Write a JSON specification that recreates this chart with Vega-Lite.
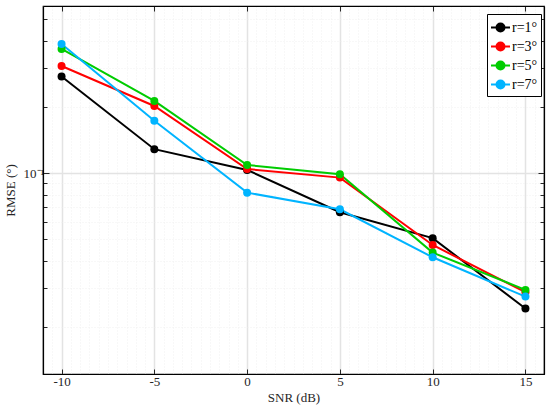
{
  "$schema": "https://vega.github.io/schema/vega-lite/v6.json",
  "autosize": {"type": "none"},
  "padding": {"left": 43, "top": 6, "right": 6, "bottom": 39},
  "width": 501,
  "height": 368,
  "background": "#ffffff",
  "config": {
    "view": {"stroke": "black", "strokeWidth": 1.2},
    "font": "Liberation Serif",
    "axis": {
      "labelFont": "Liberation Serif",
      "titleFont": "Liberation Serif",
      "labelColor": "#262626",
      "titleColor": "#262626",
      "labelFontSize": 13,
      "titleFontSize": 13,
      "titleFontWeight": "normal",
      "domainColor": "black",
      "domainWidth": 1.2,
      "tickColor": "#262626",
      "tickWidth": 1
    }
  },
  "data": {
    "values": [
      {"snr": -10, "rmse": 0.275, "r": "r=1°"},
      {"snr": -5, "rmse": 0.1286, "r": "r=1°"},
      {"snr": 0, "rmse": 0.1035, "r": "r=1°"},
      {"snr": 5, "rmse": 0.0665, "r": "r=1°"},
      {"snr": 10, "rmse": 0.0507, "r": "r=1°"},
      {"snr": 15, "rmse": 0.0243, "r": "r=1°"},
      {"snr": -10, "rmse": 0.307, "r": "r=3°"},
      {"snr": -5, "rmse": 0.202, "r": "r=3°"},
      {"snr": 0, "rmse": 0.1045, "r": "r=3°"},
      {"snr": 5, "rmse": 0.0955, "r": "r=3°"},
      {"snr": 10, "rmse": 0.0472, "r": "r=3°"},
      {"snr": 15, "rmse": 0.0288, "r": "r=3°"},
      {"snr": -10, "rmse": 0.367, "r": "r=5°"},
      {"snr": -5, "rmse": 0.213, "r": "r=5°"},
      {"snr": 0, "rmse": 0.109, "r": "r=5°"},
      {"snr": 5, "rmse": 0.099, "r": "r=5°"},
      {"snr": 10, "rmse": 0.0436, "r": "r=5°"},
      {"snr": 15, "rmse": 0.0295, "r": "r=5°"},
      {"snr": -10, "rmse": 0.386, "r": "r=7°"},
      {"snr": -5, "rmse": 0.173, "r": "r=7°"},
      {"snr": 0, "rmse": 0.0816, "r": "r=7°"},
      {"snr": 5, "rmse": 0.0686, "r": "r=7°"},
      {"snr": 10, "rmse": 0.0415, "r": "r=7°"},
      {"snr": 15, "rmse": 0.0275, "r": "r=7°"}
    ]
  },
  "resolve": {"axis": {"x": "independent", "y": "independent"}},
  "layer": [
    {
      "mark": {"type": "line", "strokeWidth": 2},
      "encoding": {
        "x": {
          "field": "snr",
          "type": "quantitative",
          "scale": {"domain": [-11, 16], "nice": false, "zero": false},
          "axis": {
            "orient": "bottom",
            "title": "SNR (dB)",
            "titlePadding": 3,
            "values": [-11, -10.5, -10, -9.5, -9, -8.5, -8, -7.5, -7, -6.5, -6, -5.5, -5, -4.5, -4, -3.5, -3, -2.5, -2, -1.5, -1, -0.5, 0, 0.5, 1, 1.5, 2, 2.5, 3, 3.5, 4, 4.5, 5, 5.5, 6, 6.5, 7, 7.5, 8, 8.5, 9, 9.5, 10, 10.5, 11, 11.5, 12, 12.5, 13, 13.5, 14, 14.5, 15, 15.5, 16],
            "labelExpr": "datum.value % 5 === 0 ? '' + datum.value : ''",
            "labelPadding": 6,
            "grid": true,
            "gridColor": {"condition": {"test": "datum.value % 5 === 0", "value": "#e3e3e3"}, "value": "#ececec"},
            "gridWidth": {"condition": {"test": "datum.value % 5 === 0", "value": 1.5}, "value": 0.8},
            "gridDash": {"condition": {"test": "datum.value % 5 === 0", "value": []}, "value": [1, 2]},
            "tickSize": {"condition": {"test": "datum.value % 5 === 0", "value": -5}, "value": 0}
          }
        },
        "y": {
          "field": "rmse",
          "type": "quantitative",
          "scale": {"type": "log", "domain": [0.01224, 0.575], "nice": false},
          "axis": {
            "orient": "left",
            "title": "RMSE (°)",
            "titlePadding": 6,
            "values": [0.02, 0.03, 0.04, 0.05, 0.06, 0.07, 0.08, 0.09, 0.1, 0.2, 0.3, 0.4, 0.5],
            "labelExpr": "datum.value === 0.1 ? '10⁻¹' : ''",
            "labelPadding": 5,
            "grid": true,
            "gridColor": {"condition": {"test": "datum.value === 0.1", "value": "#e3e3e3"}, "value": "#ececec"},
            "gridWidth": {"condition": {"test": "datum.value === 0.1", "value": 1.5}, "value": 0.8},
            "gridDash": {"condition": {"test": "datum.value === 0.1", "value": []}, "value": [1, 2]},
            "tickSize": {"condition": {"test": "datum.value === 0.1", "value": -6}, "value": -4}
          }
        },
        "color": {
          "field": "r",
          "type": "nominal",
          "scale": {
            "domain": ["r=1°", "r=3°", "r=5°", "r=7°"],
            "range": ["#000000", "#ff0000", "#00cc00", "#00b4ff"]
          },
          "legend": {
            "orient": "none",
            "legendX": 444,
            "legendY": 8,
            "title": null,
            "direction": "vertical",
            "strokeColor": "black",
            "fillColor": "white",
            "padding": 3,
            "rowPadding": 0,
            "labelFont": "Liberation Serif",
            "labelFontSize": 14,
            "labelColor": "black",
            "labelOffset": 1,
            "symbolType": "M-1,0L1,0M-0.42,0A0.42,0.42,0,1,1,0.42,0A0.42,0.42,0,1,1,-0.42,0Z",
            "symbolSize": 361,
            "symbolStrokeWidth": 2,
            "encode": {
              "symbols": {
                "update": {
                  "stroke": {"scale": "color", "field": "value"},
                  "fill": {"scale": "color", "field": "value"},
                  "opacity": {"value": 1}
                }
              }
            }
          }
        }
      }
    },
    {
      "mark": {"type": "circle", "size": 64, "opacity": 1},
      "encoding": {
        "x": {
          "field": "snr",
          "type": "quantitative",
          "axis": {
            "orient": "top",
            "title": null,
            "values": [-10, -5, 0, 5, 10, 15],
            "labels": false,
            "grid": false,
            "tickSize": -5
          }
        },
        "y": {
          "field": "rmse",
          "type": "quantitative",
          "axis": {
            "orient": "right",
            "title": null,
            "values": [0.02, 0.03, 0.04, 0.05, 0.06, 0.07, 0.08, 0.09, 0.1, 0.2, 0.3, 0.4, 0.5],
            "labels": false,
            "grid": false,
            "tickSize": {"condition": {"test": "datum.value === 0.1", "value": -6}, "value": -4}
          }
        },
        "color": {"field": "r", "type": "nominal"}
      }
    }
  ]
}
